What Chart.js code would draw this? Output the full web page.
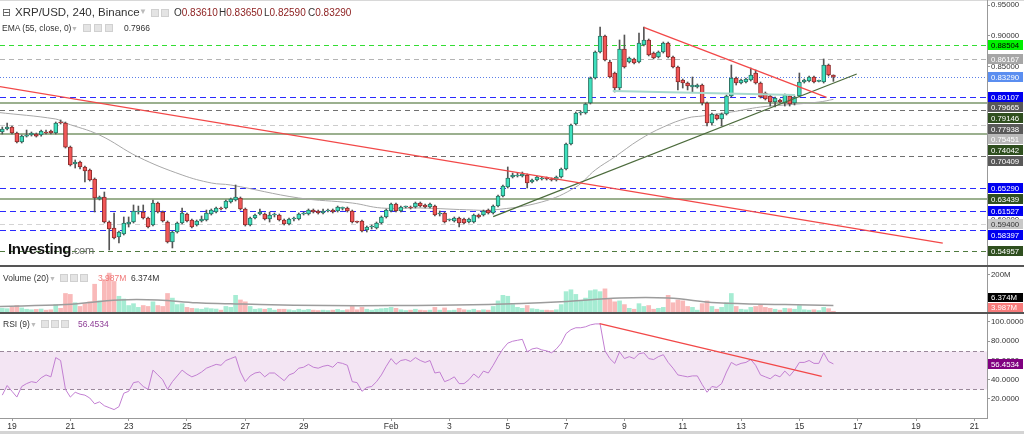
<!DOCTYPE html>
<html>
<head>
<meta charset="utf-8">
<script src="https://cdn.jsdelivr.net/npm/chart.js@4.4.1/dist/chart.umd.min.js"></script>
<style>
  body { margin: 0; background: #fff; overflow: hidden; }
  #wrap { position: relative; width: 1024px; height: 434px; font-family: "Liberation Sans", Arial, sans-serif; color: #333; }
  canvas { position: absolute; left: 0; }
  .bar { position: absolute; left: 0; width: 1024px; }
  .t { position: absolute; white-space: nowrap; line-height: 1; }
  .ic { position: absolute; width: 8px; height: 8px; background: #e4e4e4; border: 1px solid #d0d0d0; box-sizing: border-box; }
</style>
</head>
<body>
<div id="wrap">
  <div class="bar" style="top:0;height:1px;background:#d8d8d8"></div>
  <canvas id="priceChart" width="1024" height="265" style="top:0"></canvas>
  <div class="bar" style="top:265px;height:2px;background:#555"></div>
  <canvas id="volumeChart" width="1024" height="45" style="top:267px"></canvas>
  <div class="bar" style="top:312px;height:2px;background:#555"></div>
  <canvas id="rsiChart" width="1024" height="117" style="top:314px"></canvas>
  <div class="bar" style="top:431px;height:3px;background:#d4d4d4"></div>

  <div class="t" style="left:2px;top:6px;font:11px 'DejaVu Sans';color:#555">⊟</div>
  <div class="t" style="left:15px;top:7px;font-size:11.5px">XRP/USD, 240, Binance</div>
  <div class="t" style="left:139px;top:8px;font-size:8px;color:#bbb">▼</div>
  <div class="ic" style="left:151px;top:9px"></div>
  <div class="ic" style="left:161px;top:9px"></div>
  <div class="t" style="left:174px;top:8px;font-size:10px">O<span style="color:#8b1c1c">0.83610</span></div>
  <div class="t" style="left:219px;top:8px;font-size:10px">H<span style="color:#8b1c1c">0.83650</span></div>
  <div class="t" style="left:264px;top:8px;font-size:10px">L<span style="color:#8b1c1c">0.82590</span></div>
  <div class="t" style="left:308px;top:8px;font-size:10px">C<span style="color:#8b1c1c">0.83290</span></div>

  <div class="t" style="left:2px;top:24px;font-size:8.5px">EMA (55, close, 0)</div>
  <div class="t" style="left:71px;top:25px;font-size:7px;color:#bbb">▼</div>
  <div class="ic" style="left:83px;top:24px"></div>
  <div class="ic" style="left:94px;top:24px"></div>
  <div class="ic" style="left:105px;top:24px"></div>
  <div class="t" id="emaValue" style="left:124px;top:24px;font-size:8.5px"></div>

  <div class="t" style="left:8px;top:241px;font-weight:bold;font-size:15px;color:#111;letter-spacing:-0.3px">Investing<span style="font-weight:normal;font-size:11px;color:#666">.com</span></div>

  <div class="t" style="left:3px;top:274px;font-size:8.5px">Volume (20)</div>
  <div class="t" style="left:49px;top:275px;font-size:7px;color:#bbb">▼</div>
  <div class="ic" style="left:60px;top:274px"></div>
  <div class="ic" style="left:70px;top:274px"></div>
  <div class="ic" style="left:80px;top:274px"></div>
  <div class="t" id="volValue" style="left:98px;top:274px;font-size:8.5px;color:#f07878"></div>
  <div class="t" id="volMaValue" style="left:131px;top:274px;font-size:8.5px"></div>

  <div class="t" style="left:3px;top:320px;font-size:8.5px">RSI (9)</div>
  <div class="t" style="left:30px;top:321px;font-size:7px;color:#bbb">▼</div>
  <div class="ic" style="left:41px;top:320px"></div>
  <div class="ic" style="left:51px;top:320px"></div>
  <div class="ic" style="left:61px;top:320px"></div>
  <div class="t" id="rsiValue" style="left:78px;top:320px;font-size:8.5px;color:#8e3d96"></div>
</div>

<script>
// 4h candles, index 0 = 19 Jan 00:00
const firstCandle = -2;

const opens = [
  0.7436, 0.7484, 0.7517, 0.7419, 0.7273, 0.7370, 0.7387, 0.7403, 0.7387, 0.7425,
  0.7452, 0.7419, 0.7598, 0.7582, 0.7191, 0.6915, 0.6948, 0.6867, 0.6818, 0.6671,
  0.6346, 0.6379, 0.5972, 0.5875, 0.5728, 0.5777, 0.5940, 0.5972, 0.6135, 0.6135,
  0.6037, 0.5924, 0.6281, 0.6135, 0.5972, 0.5647, 0.5810, 0.5956, 0.6102, 0.6005,
  0.5924, 0.5989, 0.6005, 0.6102, 0.6135, 0.6200, 0.6200, 0.6297, 0.6330, 0.6362,
  0.6184, 0.5924, 0.6037, 0.6102, 0.6102, 0.6021, 0.6086, 0.6086, 0.6005, 0.5940,
  0.6021, 0.6021, 0.6102, 0.6102, 0.6167, 0.6151, 0.6119, 0.6151, 0.6167, 0.6151,
  0.6195, 0.6200, 0.6151, 0.5972, 0.5989, 0.5842, 0.5891, 0.5875, 0.5956, 0.6054,
  0.6151, 0.6265, 0.6151, 0.6216, 0.6216, 0.6216, 0.6281, 0.6249, 0.6216, 0.6232,
  0.6102, 0.6119, 0.6005, 0.5989, 0.6037, 0.6021, 0.5972, 0.5972, 0.6086, 0.6086,
  0.6167, 0.6119, 0.6232, 0.6395, 0.6541, 0.6704, 0.6720, 0.6720, 0.6736, 0.6623,
  0.6655, 0.6671, 0.6688, 0.6671, 0.6655, 0.6704, 0.6834, 0.7240, 0.7566, 0.7745,
  0.7745, 0.7907, 0.8314, 0.8737, 0.8997, 0.8574, 0.8395, 0.8151, 0.8785, 0.8574,
  0.8623, 0.8574, 0.8850, 0.8932, 0.8720, 0.8655, 0.8737, 0.8883, 0.8655, 0.8493,
  0.8281, 0.8232, 0.8167, 0.8167, 0.8200, 0.7907, 0.7582, 0.7712, 0.7647, 0.7728,
  0.8021, 0.8314, 0.8232, 0.8249, 0.8281, 0.8395, 0.8232, 0.8070, 0.8021, 0.7923,
  0.7956, 0.7907, 0.8021, 0.7907, 0.8021, 0.8249, 0.8265, 0.8330, 0.8260, 0.8249,
  0.8525, 0.8361
];
const highs = [
  0.7517, 0.7582, 0.7533, 0.7436, 0.7387, 0.7468, 0.7436, 0.7419, 0.7468, 0.7468,
  0.7468, 0.7598, 0.7631, 0.7598, 0.7208, 0.6981, 0.6964, 0.6883, 0.6834, 0.6688,
  0.6395, 0.6460, 0.5989, 0.6119, 0.5826, 0.6054, 0.6054, 0.6249, 0.6232, 0.6249,
  0.6054, 0.6330, 0.6297, 0.6151, 0.5989, 0.5826, 0.5972, 0.6200, 0.6119, 0.6021,
  0.6005, 0.6070, 0.6167, 0.6184, 0.6216, 0.6216, 0.6330, 0.6362, 0.6574, 0.6379,
  0.6200, 0.6054, 0.6102, 0.6184, 0.6119, 0.6135, 0.6119, 0.6102, 0.6021, 0.6037,
  0.6054, 0.6119, 0.6135, 0.6184, 0.6184, 0.6167, 0.6184, 0.6184, 0.6184, 0.6232,
  0.6216, 0.6216, 0.6167, 0.5989, 0.6005, 0.5907, 0.5924, 0.5972, 0.6070, 0.6184,
  0.6281, 0.6281, 0.6232, 0.6232, 0.6232, 0.6297, 0.6297, 0.6265, 0.6281, 0.6249,
  0.6151, 0.6135, 0.6021, 0.6054, 0.6054, 0.6037, 0.6037, 0.6102, 0.6102, 0.6167,
  0.6184, 0.6249, 0.6411, 0.6574, 0.6867, 0.6769, 0.6769, 0.6785, 0.6753, 0.6671,
  0.6720, 0.6704, 0.6704, 0.6688, 0.6720, 0.6850, 0.7257, 0.7566, 0.7761, 0.7777,
  0.7907, 0.8330, 0.8753, 0.9143, 0.9013, 0.8607, 0.8411, 0.8932, 0.9013, 0.8655,
  0.8639, 0.9046, 0.9143, 0.8948, 0.8737, 0.8753, 0.8899, 0.8899, 0.8672, 0.8509,
  0.8297, 0.8249, 0.8330, 0.8216, 0.8216, 0.7923, 0.7745, 0.7728, 0.7745, 0.8037,
  0.8525, 0.8330, 0.8297, 0.8314, 0.8476, 0.8444, 0.8249, 0.8086, 0.8037, 0.8005,
  0.7972, 0.8054, 0.8037, 0.8021, 0.8395, 0.8297, 0.8346, 0.8346, 0.8281, 0.8623,
  0.8541, 0.8365
];
const lows = [
  0.7403, 0.7468, 0.7403, 0.7257, 0.7257, 0.7354, 0.7370, 0.7354, 0.7370, 0.7403,
  0.7403, 0.7403, 0.7566, 0.7175, 0.6883, 0.6850, 0.6834, 0.6623, 0.6639, 0.6135,
  0.6330, 0.5956, 0.5517, 0.5696, 0.5631, 0.5761, 0.5891, 0.5956, 0.6102, 0.6021,
  0.5875, 0.5907, 0.6119, 0.5972, 0.5631, 0.5550, 0.5793, 0.5940, 0.5972, 0.5875,
  0.5907, 0.5972, 0.5989, 0.6086, 0.6119, 0.6167, 0.6184, 0.6281, 0.6314, 0.6167,
  0.5907, 0.5907, 0.6021, 0.6086, 0.6005, 0.5972, 0.6054, 0.5989, 0.5924, 0.5924,
  0.5989, 0.6005, 0.6086, 0.6086, 0.6119, 0.6102, 0.6102, 0.6135, 0.6119, 0.6135,
  0.6167, 0.6135, 0.5956, 0.5956, 0.5810, 0.5810, 0.5859, 0.5859, 0.5940, 0.6037,
  0.6135, 0.6135, 0.6135, 0.6200, 0.6184, 0.6200, 0.6216, 0.6200, 0.6200, 0.6070,
  0.6070, 0.5956, 0.5989, 0.5972, 0.5891, 0.5940, 0.5956, 0.5956, 0.6037, 0.6070,
  0.6102, 0.6102, 0.6216, 0.6379, 0.6525, 0.6688, 0.6704, 0.6704, 0.6525, 0.6606,
  0.6639, 0.6655, 0.6655, 0.6639, 0.6639, 0.6688, 0.6818, 0.7224, 0.7549, 0.7712,
  0.7728, 0.7891, 0.8297, 0.8720, 0.8590, 0.8314, 0.8086, 0.8119, 0.8476, 0.8558,
  0.8541, 0.8558, 0.8834, 0.8672, 0.8623, 0.8639, 0.8720, 0.8639, 0.8476, 0.8119,
  0.8151, 0.8119, 0.8086, 0.8151, 0.7875, 0.7533, 0.7549, 0.7631, 0.7533, 0.7712,
  0.8005, 0.8200, 0.8216, 0.8232, 0.8265, 0.8216, 0.7988, 0.7956, 0.7858, 0.7842,
  0.7907, 0.7858, 0.7858, 0.7875, 0.8005, 0.8232, 0.8249, 0.8232, 0.8249, 0.8232,
  0.8346, 0.8259
];
const closes = [
  0.7484, 0.7517, 0.7419, 0.7273, 0.7370, 0.7387, 0.7419, 0.7370, 0.7452, 0.7419,
  0.7419, 0.7582, 0.7582, 0.7191, 0.6899, 0.6948, 0.6867, 0.6801, 0.6655, 0.6362,
  0.6379, 0.5972, 0.5859, 0.5712, 0.5810, 0.5956, 0.5972, 0.6151, 0.6151, 0.6037,
  0.5891, 0.6281, 0.6135, 0.5989, 0.5647, 0.5810, 0.5956, 0.6119, 0.5989, 0.5891,
  0.5989, 0.6021, 0.6119, 0.6167, 0.6200, 0.6184, 0.6314, 0.6346, 0.6379, 0.6184,
  0.5924, 0.6037, 0.6086, 0.6135, 0.6021, 0.6086, 0.6090, 0.6005, 0.5940, 0.6021,
  0.6025, 0.6102, 0.6119, 0.6167, 0.6135, 0.6119, 0.6151, 0.6167, 0.6135, 0.6216,
  0.6200, 0.6151, 0.5972, 0.5968, 0.5826, 0.5891, 0.5895, 0.5956, 0.6054, 0.6167,
  0.6265, 0.6151, 0.6216, 0.6220, 0.6200, 0.6281, 0.6232, 0.6216, 0.6265, 0.6086,
  0.6119, 0.5972, 0.6009, 0.6037, 0.5956, 0.5956, 0.6021, 0.6086, 0.6054, 0.6151,
  0.6119, 0.6232, 0.6395, 0.6558, 0.6688, 0.6736, 0.6736, 0.6753, 0.6606, 0.6655,
  0.6704, 0.6688, 0.6671, 0.6655, 0.6704, 0.6834, 0.7240, 0.7549, 0.7745, 0.7750,
  0.7891, 0.8314, 0.8737, 0.8997, 0.8607, 0.8330, 0.8151, 0.8785, 0.8493, 0.8639,
  0.8558, 0.8883, 0.8932, 0.8688, 0.8639, 0.8737, 0.8883, 0.8655, 0.8493, 0.8249,
  0.8232, 0.8184, 0.8200, 0.8200, 0.7907, 0.7582, 0.7728, 0.7647, 0.7728, 0.8021,
  0.8314, 0.8232, 0.8281, 0.8297, 0.8362, 0.8232, 0.8005, 0.7972, 0.7923, 0.7988,
  0.7923, 0.8037, 0.7891, 0.8005, 0.8249, 0.8281, 0.8330, 0.8249, 0.8265, 0.8525,
  0.8362, 0.8329
];

// volume in millions
const volumes = [
  20, 18, 25, 35, 22, 15, 12, 14, 16, 10,
  12, 40, 20, 100, 95, 50, 30, 45, 55, 150,
  60, 175, 210, 165, 85, 70, 35, 45, 25, 35,
  30, 55, 35, 30, 100, 75, 40, 45, 25, 20,
  18, 15, 22, 18, 16, 10, 30, 25, 90, 65,
  55, 30, 15, 18, 15, 20, 10, 15, 15, 12,
  8, 15, 10, 14, 10, 8, 10, 8, 10, 14,
  8, 12, 30, 12, 25, 15, 10, 15, 18, 20,
  25, 20, 12, 8, 10, 15, 10, 8, 10, 25,
  10, 22, 8, 10, 20, 12, 10, 15, 8, 12,
  10, 30, 60, 90, 85, 40, 25, 20, 35, 18,
  15, 10, 10, 8, 12, 40, 110, 120, 95, 60,
  75, 115, 120, 110, 125, 70, 55, 60, 40, 20,
  15, 45, 30, 35, 15, 20, 25, 90, 50, 65,
  60, 30, 25, 10, 45, 60, 30, 15, 25, 50,
  100, 30, 15, 12, 25, 30, 40, 25, 20, 15,
  10, 20, 18, 15, 35, 12, 10, 12, 8, 25,
  18, 3.987
];
const volumeMaIdx = [-3, 11, 22, 30, 38, 45, 51, 65, 78, 98, 113, 125, 135, 145, 159, 169];
const volumeMaValues = [30, 40, 65, 65, 50, 45, 40, 35, 35, 40, 55, 75, 75, 50, 40, 35];
const volumeMaReadout = 6.374;

const rsiValues = [
  24, 34, 28, 22, 33, 36, 38, 37, 42, 45,
  43, 63, 60, 30, 22, 27, 25, 24, 21, 15,
  17, 13, 11, 9, 12, 26, 28, 37, 38, 33,
  30, 50, 45, 40, 30, 38, 44, 50, 46, 43,
  45, 48, 52, 54, 56, 55, 60, 62, 64, 48,
  38, 44, 47, 48, 43, 47, 47, 43, 39, 45,
  47, 52, 53, 56, 53, 52, 54, 55, 53, 58,
  57, 55, 38, 37, 28, 32, 33, 38, 45, 54,
  62, 56, 60, 61, 59, 63, 60, 58, 60, 47,
  48, 38, 40, 43, 36, 36, 40, 46, 42, 49,
  47, 55, 64, 72, 78, 80, 81, 82, 69, 72,
  73, 71, 70, 68, 72, 78, 88, 92, 94, 94,
  95, 97, 98, 98, 70, 62, 57, 69, 62, 64,
  62, 67, 68, 62, 61, 64, 66, 58, 52, 45,
  44, 43, 44, 44, 35, 27, 33, 32, 36, 48,
  58, 55, 57, 58, 61, 55, 45, 43, 41, 45,
  43, 49, 44, 50, 58, 58, 60, 57, 57, 68,
  59, 56.4534
];

const emaIdx = [-3, 9, 11, 18, 26, 35, 41, 45, 59, 70, 76, 84, 95, 99, 109, 116, 120, 124, 129, 134, 139, 142, 148, 154, 159, 166, 169];
const emaValues = [0.7755, 0.7647, 0.7582, 0.7387, 0.7029, 0.6737, 0.6607, 0.6574, 0.6363, 0.6281, 0.6200, 0.6200, 0.6167, 0.6167, 0.6298, 0.6541, 0.6818, 0.7029, 0.7306, 0.7517, 0.7664, 0.7696, 0.7761, 0.7842, 0.7875, 0.7923, 0.79665];

// horizontal levels drawn on the price panel
const levelValues = [0.88504, 0.86167, 0.80107, 0.79146, 0.77938, 0.75451, 0.74042, 0.70409, 0.65290, 0.63439, 0.61527, 0.59400, 0.58397, 0.54957];
const levelKinds = ['lime', 'grey', 'blue', 'green', 'dark', 'light', 'green', 'dark', 'blue', 'green', 'blue', 'pale', 'blue', 'olive'];

// drawn trend lines: [candle index, price]
const trendLongIdx = [-2.5, 191.5];
const trendLongPrice = [0.8175, 0.5630];
const trendTopIdx = [130, 167.6];
const trendTopPrice = [0.9138, 0.8000];
const trendUpIdx = [99, 173.8];
const trendUpPrice = [0.6059, 0.8379];
const trendFlatIdx = [123.6, 161.1];
const trendFlatPrice = [0.8102, 0.8038];
const rsiTrendIdx = [120.9, 166.6];
const rsiTrendValues = [98.3, 43.5];

const priceTicks = [0.55, 0.60, 0.65, 0.70, 0.75, 0.80, 0.85, 0.90, 0.95];
const rsiTicks = [20, 40, 60, 80, 100];
const volumeTicks = [200];
const tickDays = [0, 2, 4, 6, 8, 10, 13, 15, 17, 19, 21, 23, 25, 27, 29, 31, 33];
const tickLabels = ['19', '21', '23', '25', '27', '29', 'Feb', '3', '5', '7', '9', '11', '13', '15', '17', '19', '21'];

const levelLook = {
  lime: { line: '#33dd33', dash: [5, 4], width: 1, tag: '#00f000', text: '#000' },
  grey: { line: '#b4b4b4', dash: [5, 4], width: 1, tag: '#a6a6a6', text: '#fff' },
  blue: { line: '#2a2aff', dash: [6, 4], width: 1, tag: '#0000f0', text: '#fff' },
  dark: { line: '#707070', dash: [5, 4], width: 1, tag: '#595959', text: '#fff' },
  green: { line: '#9bb08f', dash: [], width: 2, tag: '#2f4f1f', text: '#fff' },
  light: { line: '#cccccc', dash: [5, 4], width: 1, tag: '#b8b8b8', text: '#fff' },
  pale: { line: '#d4d4d4', dash: [5, 4], width: 1, tag: '#c8c8c8', text: '#333' },
  olive: { line: '#4f7a3f', dash: [5, 4], width: 1, tag: '#2f4f1f', text: '#fff' },
  last: { line: '#5b7fe8', dash: [1, 2], width: 1, tag: '#5b8ef0', text: '#fff' }
};
const emaTagLook = { tag: '#595959', text: '#fff' };

const X_MIN = -2.47;
const X_MAX = 200.6;
const AXIS_W = 37;
const TICK_FONT = { family: 'Liberation Sans', size: 7.8 };
const last = closes.length - 1;
const emaLast = emaValues[emaValues.length - 1];

document.getElementById('emaValue').textContent = (Math.floor(emaLast * 10000 + 1e-6) / 10000).toFixed(4);
document.getElementById('volValue').textContent = volumes[last].toFixed(3) + 'M';
document.getElementById('volMaValue').textContent = volumeMaReadout.toFixed(3) + 'M';
document.getElementById('rsiValue').textContent = rsiValues[last].toFixed(4);

const isUp = closes.map(function (c, i) { return c >= opens[i]; });
const pts = function (xs, ys) { return xs.map(function (x, i) { return { x: x, y: ys[i] }; }); };
const candleIdx = closes.map(function (_, i) { return firstCandle + i; });

function drawTags(ctx, items, left, right, h, step) {
  items.sort(function (a, b) { return a.py - b.py; });
  let prev = -1e9;
  ctx.font = '7.8px "Liberation Sans"';
  ctx.textBaseline = 'middle';
  ctx.textAlign = 'left';
  items.forEach(function (t) {
    const cy = Math.max(t.py, prev + step);
    prev = cy;
    ctx.fillStyle = t.bg;
    ctx.fillRect(left, Math.round(cy - h / 2), right - left, h);
    ctx.fillStyle = t.fg;
    ctx.fillText(t.text, left + 3, Math.round(cy) + 0.5);
  });
}

function rightAxis(extra) {
  return Object.assign({
    position: 'right',
    afterFit: function (s) { s.width = AXIS_W; s.paddingTop = 0; s.paddingBottom = 0; },
    grid: { drawOnChartArea: false, tickLength: 3, color: '#999' },
    border: { display: true, color: '#999' },
    ticks: { font: TICK_FONT, color: '#333', padding: 1 }
  }, extra);
}

function xAxis(show) {
  return {
    type: 'linear', min: X_MIN, max: X_MAX, offset: false, display: show,
    afterBuildTicks: function (s) { s.ticks = tickDays.map(function (d) { return { value: d * 6 }; }); },
    afterFit: function (s) { s.height = show ? 13 : 0; s.paddingLeft = 0; s.paddingRight = 0; },
    grid: { drawOnChartArea: false, tickLength: 3, color: '#999' },
    border: { display: true, color: '#999' },
    ticks: {
      font: { family: 'Liberation Sans', size: 8.5 }, color: '#333', padding: 1, maxRotation: 0, autoSkip: false,
      callback: function (v, i) { return tickLabels[i]; }
    }
  };
}

const baseOptions = {
  responsive: false,
  animation: false,
  devicePixelRatio: 1,
  layout: { padding: 0 },
  plugins: { legend: { display: false }, tooltip: { enabled: false } }
};

// price panel
const levelPlugin = {
  id: 'levels',
  beforeDatasetsDraw: function (chart) {
    const ctx = chart.ctx, area = chart.chartArea, y = chart.scales.y;
    ctx.save();
    levelValues.concat([closes[last]]).forEach(function (v, i) {
      const look = levelLook[levelKinds[i] || 'last'];
      const py = Math.round(y.getPixelForValue(v)) + (look.width === 2 ? 0 : 0.5);
      ctx.strokeStyle = look.line;
      ctx.lineWidth = look.width;
      ctx.setLineDash(look.dash);
      ctx.beginPath();
      ctx.moveTo(area.left, py);
      ctx.lineTo(area.right, py);
      ctx.stroke();
    });
    ctx.restore();
  },
  afterDraw: function (chart) {
    const y = chart.scales.y, area = chart.chartArea;
    const items = levelValues.concat([closes[last]]).map(function (v, i) {
      const look = levelLook[levelKinds[i] || 'last'];
      return { py: y.getPixelForValue(v), bg: look.tag, fg: look.text, text: v.toFixed(5) };
    });
    items.push({ py: y.getPixelForValue(emaLast), bg: emaTagLook.tag, fg: emaTagLook.text, text: emaLast.toFixed(5) });
    chart.ctx.save();
    drawTags(chart.ctx, items, area.right + 1, chart.width - 1, 10, 10.7);
    chart.ctx.restore();
  }
};

const lineSet = function (data, color, width, order) {
  return { type: 'line', data: data, borderColor: color, borderWidth: width, pointRadius: 0, fill: false, order: order };
};

new Chart(document.getElementById('priceChart'), {
  type: 'bar',
  data: {
    datasets: [
      Object.assign(lineSet(pts(emaIdx, emaValues), '#a8a8a8', 1, 6), { tension: 0.4 }),
      {
        data: candleIdx.map(function (x, i) { return { x: x, y: [lows[i], highs[i]] }; }),
        backgroundColor: '#555', barThickness: 1, grouped: false, order: 4
      },
      {
        data: candleIdx.map(function (x, i) { return { x: x, y: [opens[i], closes[i]] }; }),
        backgroundColor: isUp.map(function (u) { return u ? '#3ee0bd' : '#f25757'; }),
        borderColor: isUp.map(function (u) { return u ? '#2b7565' : '#8f2d2d'; }),
        borderWidth: 1, borderSkipped: false, barThickness: 4, minBarLength: 1, grouped: false, order: 3
      },
      lineSet(pts(trendFlatIdx, trendFlatPrice), '#a6d9cc', 2, 2),
      lineSet(pts(trendLongIdx, trendLongPrice), '#f24848', 1.3, 1),
      lineSet(pts(trendTopIdx, trendTopPrice), '#f24848', 1.3, 1),
      lineSet(pts(trendUpIdx, trendUpPrice), '#4c6b3c', 1.2, 1)
    ]
  },
  options: Object.assign({}, baseOptions, {
    scales: {
      x: xAxis(false),
      y: rightAxis({
        min: 0.52732, max: 0.95821,
        afterBuildTicks: function (s) { s.ticks = priceTicks.map(function (v) { return { value: v }; }); },
        ticks: { font: TICK_FONT, color: '#333', padding: 1, callback: function (v) { return v.toFixed(5); } }
      })
    }
  }),
  plugins: [levelPlugin]
});

// volume panel
const volumeTagPlugin = {
  id: 'volumeTags',
  afterDraw: function (chart) {
    const y = chart.scales.y, area = chart.chartArea, ctx = chart.ctx;
    const volPy = Math.min(y.getPixelForValue(volumes[last]), area.bottom - 5);
    const items = [
      { py: volPy, bg: '#f77b7b', fg: '#fff', text: volumes[last].toFixed(3) + 'M' },
      { py: volPy - 10, bg: '#000', fg: '#fff', text: volumeMaReadout.toFixed(3) + 'M' }
    ];
    ctx.save();
    drawTags(ctx, items, area.right + 1, chart.width - 1, 9, 10);
    ctx.restore();
  }
};

new Chart(document.getElementById('volumeChart'), {
  type: 'bar',
  data: {
    datasets: [
      {
        data: candleIdx.map(function (x, i) { return { x: x, y: volumes[i] }; }),
        backgroundColor: isUp.map(function (u) { return u ? '#a6ecd3' : '#f9b9b9'; }),
        barThickness: 4, grouped: false, order: 2
      },
      Object.assign(lineSet(pts(volumeMaIdx, volumeMaValues), '#9c9c9c', 1.5, 1), { tension: 0.4 })
    ]
  },
  options: Object.assign({}, baseOptions, {
    scales: {
      x: xAxis(false),
      y: rightAxis({
        min: 0, max: 243,
        afterBuildTicks: function (s) { s.ticks = volumeTicks.map(function (v) { return { value: v }; }); },
        ticks: { font: TICK_FONT, color: '#333', padding: 1, callback: function (v) { return v + 'M'; } }
      })
    }
  }),
  plugins: [volumeTagPlugin]
});

// RSI panel
const rsiBandPlugin = {
  id: 'rsiBand',
  beforeDatasetsDraw: function (chart) {
    const ctx = chart.ctx, area = chart.chartArea, y = chart.scales.y;
    const top = Math.round(y.getPixelForValue(70)) + 0.5;
    const bottom = Math.round(y.getPixelForValue(30)) + 0.5;
    ctx.save();
    ctx.fillStyle = '#f3e5f3';
    ctx.fillRect(area.left, top, area.right - area.left, bottom - top);
    ctx.strokeStyle = '#9a889a';
    ctx.lineWidth = 1;
    ctx.setLineDash([4, 3]);
    [top, bottom].forEach(function (py) {
      ctx.beginPath();
      ctx.moveTo(area.left, py);
      ctx.lineTo(area.right, py);
      ctx.stroke();
    });
    ctx.restore();
  },
  afterDraw: function (chart) {
    const y = chart.scales.y, area = chart.chartArea;
    chart.ctx.save();
    drawTags(chart.ctx, [{ py: y.getPixelForValue(rsiValues[last]), bg: '#800080', fg: '#fff', text: rsiValues[last].toFixed(4) }], area.right + 1, chart.width - 1, 10, 11);
    chart.ctx.restore();
  }
};

new Chart(document.getElementById('rsiChart'), {
  type: 'line',
  data: {
    datasets: [
      Object.assign(lineSet(pts(candleIdx, rsiValues), '#c27fd2', 1, 2), { tension: 0 }),
      lineSet(pts(rsiTrendIdx, rsiTrendValues), '#f24848', 1.3, 1)
    ]
  },
  options: Object.assign({}, baseOptions, {
    scales: {
      x: xAxis(true),
      y: rightAxis({
        min: 0.26, max: 108.3,
        afterBuildTicks: function (s) { s.ticks = rsiTicks.map(function (v) { return { value: v }; }); },
        ticks: { font: TICK_FONT, color: '#333', padding: 1, callback: function (v) { return v.toFixed(4); } }
      })
    }
  }),
  plugins: [rsiBandPlugin]
});
</script>
</body>
</html>
